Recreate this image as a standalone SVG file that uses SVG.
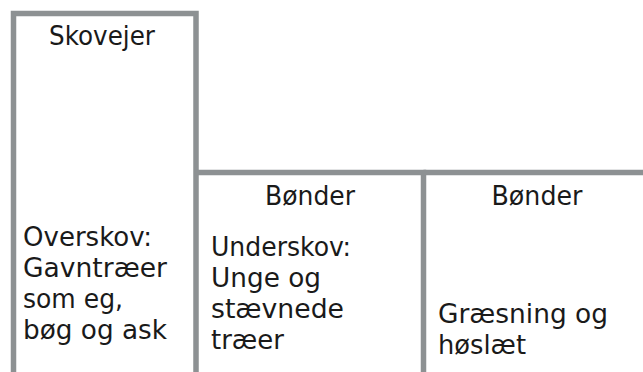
<svg xmlns="http://www.w3.org/2000/svg" width="643" height="372" viewBox="0 0 643 372">
<style>
.ln{fill:none;stroke:#8d9193;stroke-width:5.5;stroke-linecap:butt}
.t{font-family:"DejaVu Sans","Liberation Sans",sans-serif;font-size:26px;fill:#1a1a1a}
.c{text-anchor:middle}
</style>
<rect width="643" height="372" fill="#ffffff"/>
<g id="skovejer">
<path class="ln" d="M13.5,372 V13.5 H196 V372"/>
<text class="t c" x="102" y="45" textLength="106" lengthAdjust="spacingAndGlyphs">Skovejer</text>
<text class="t" x="23" y="246" textLength="129" lengthAdjust="spacingAndGlyphs">Overskov:</text>
<text class="t" x="23" y="277" textLength="144" lengthAdjust="spacingAndGlyphs">Gavntræer</text>
<text class="t" x="23" y="308" textLength="100" lengthAdjust="spacingAndGlyphs">som eg,</text>
<text class="t" x="23" y="339" textLength="144" lengthAdjust="spacingAndGlyphs">bøg og ask</text>
</g>
<g id="bonder-underskov">
<path class="ln" d="M196,172.5 H423.5 V372"/>
<text class="t c" x="310" y="205" textLength="90" lengthAdjust="spacingAndGlyphs">Bønder</text>
<text class="t" x="211" y="256" textLength="140" lengthAdjust="spacingAndGlyphs">Underskov:</text>
<text class="t" x="211" y="287" textLength="110" lengthAdjust="spacingAndGlyphs">Unge og</text>
<text class="t" x="211" y="318" textLength="133" lengthAdjust="spacingAndGlyphs">stævnede</text>
<text class="t" x="211" y="349" textLength="73" lengthAdjust="spacingAndGlyphs">træer</text>
</g>
<g id="bonder-graesning">
<path class="ln" d="M423.5,172.5 H643"/>
<text class="t c" x="537" y="205" textLength="91" lengthAdjust="spacingAndGlyphs">Bønder</text>
<text class="t" x="438" y="323" textLength="170" lengthAdjust="spacingAndGlyphs">Græsning og</text>
<text class="t" x="438" y="354" textLength="88" lengthAdjust="spacingAndGlyphs">høslæt</text>
</g>
<g id="connectors"></g>
</svg>
